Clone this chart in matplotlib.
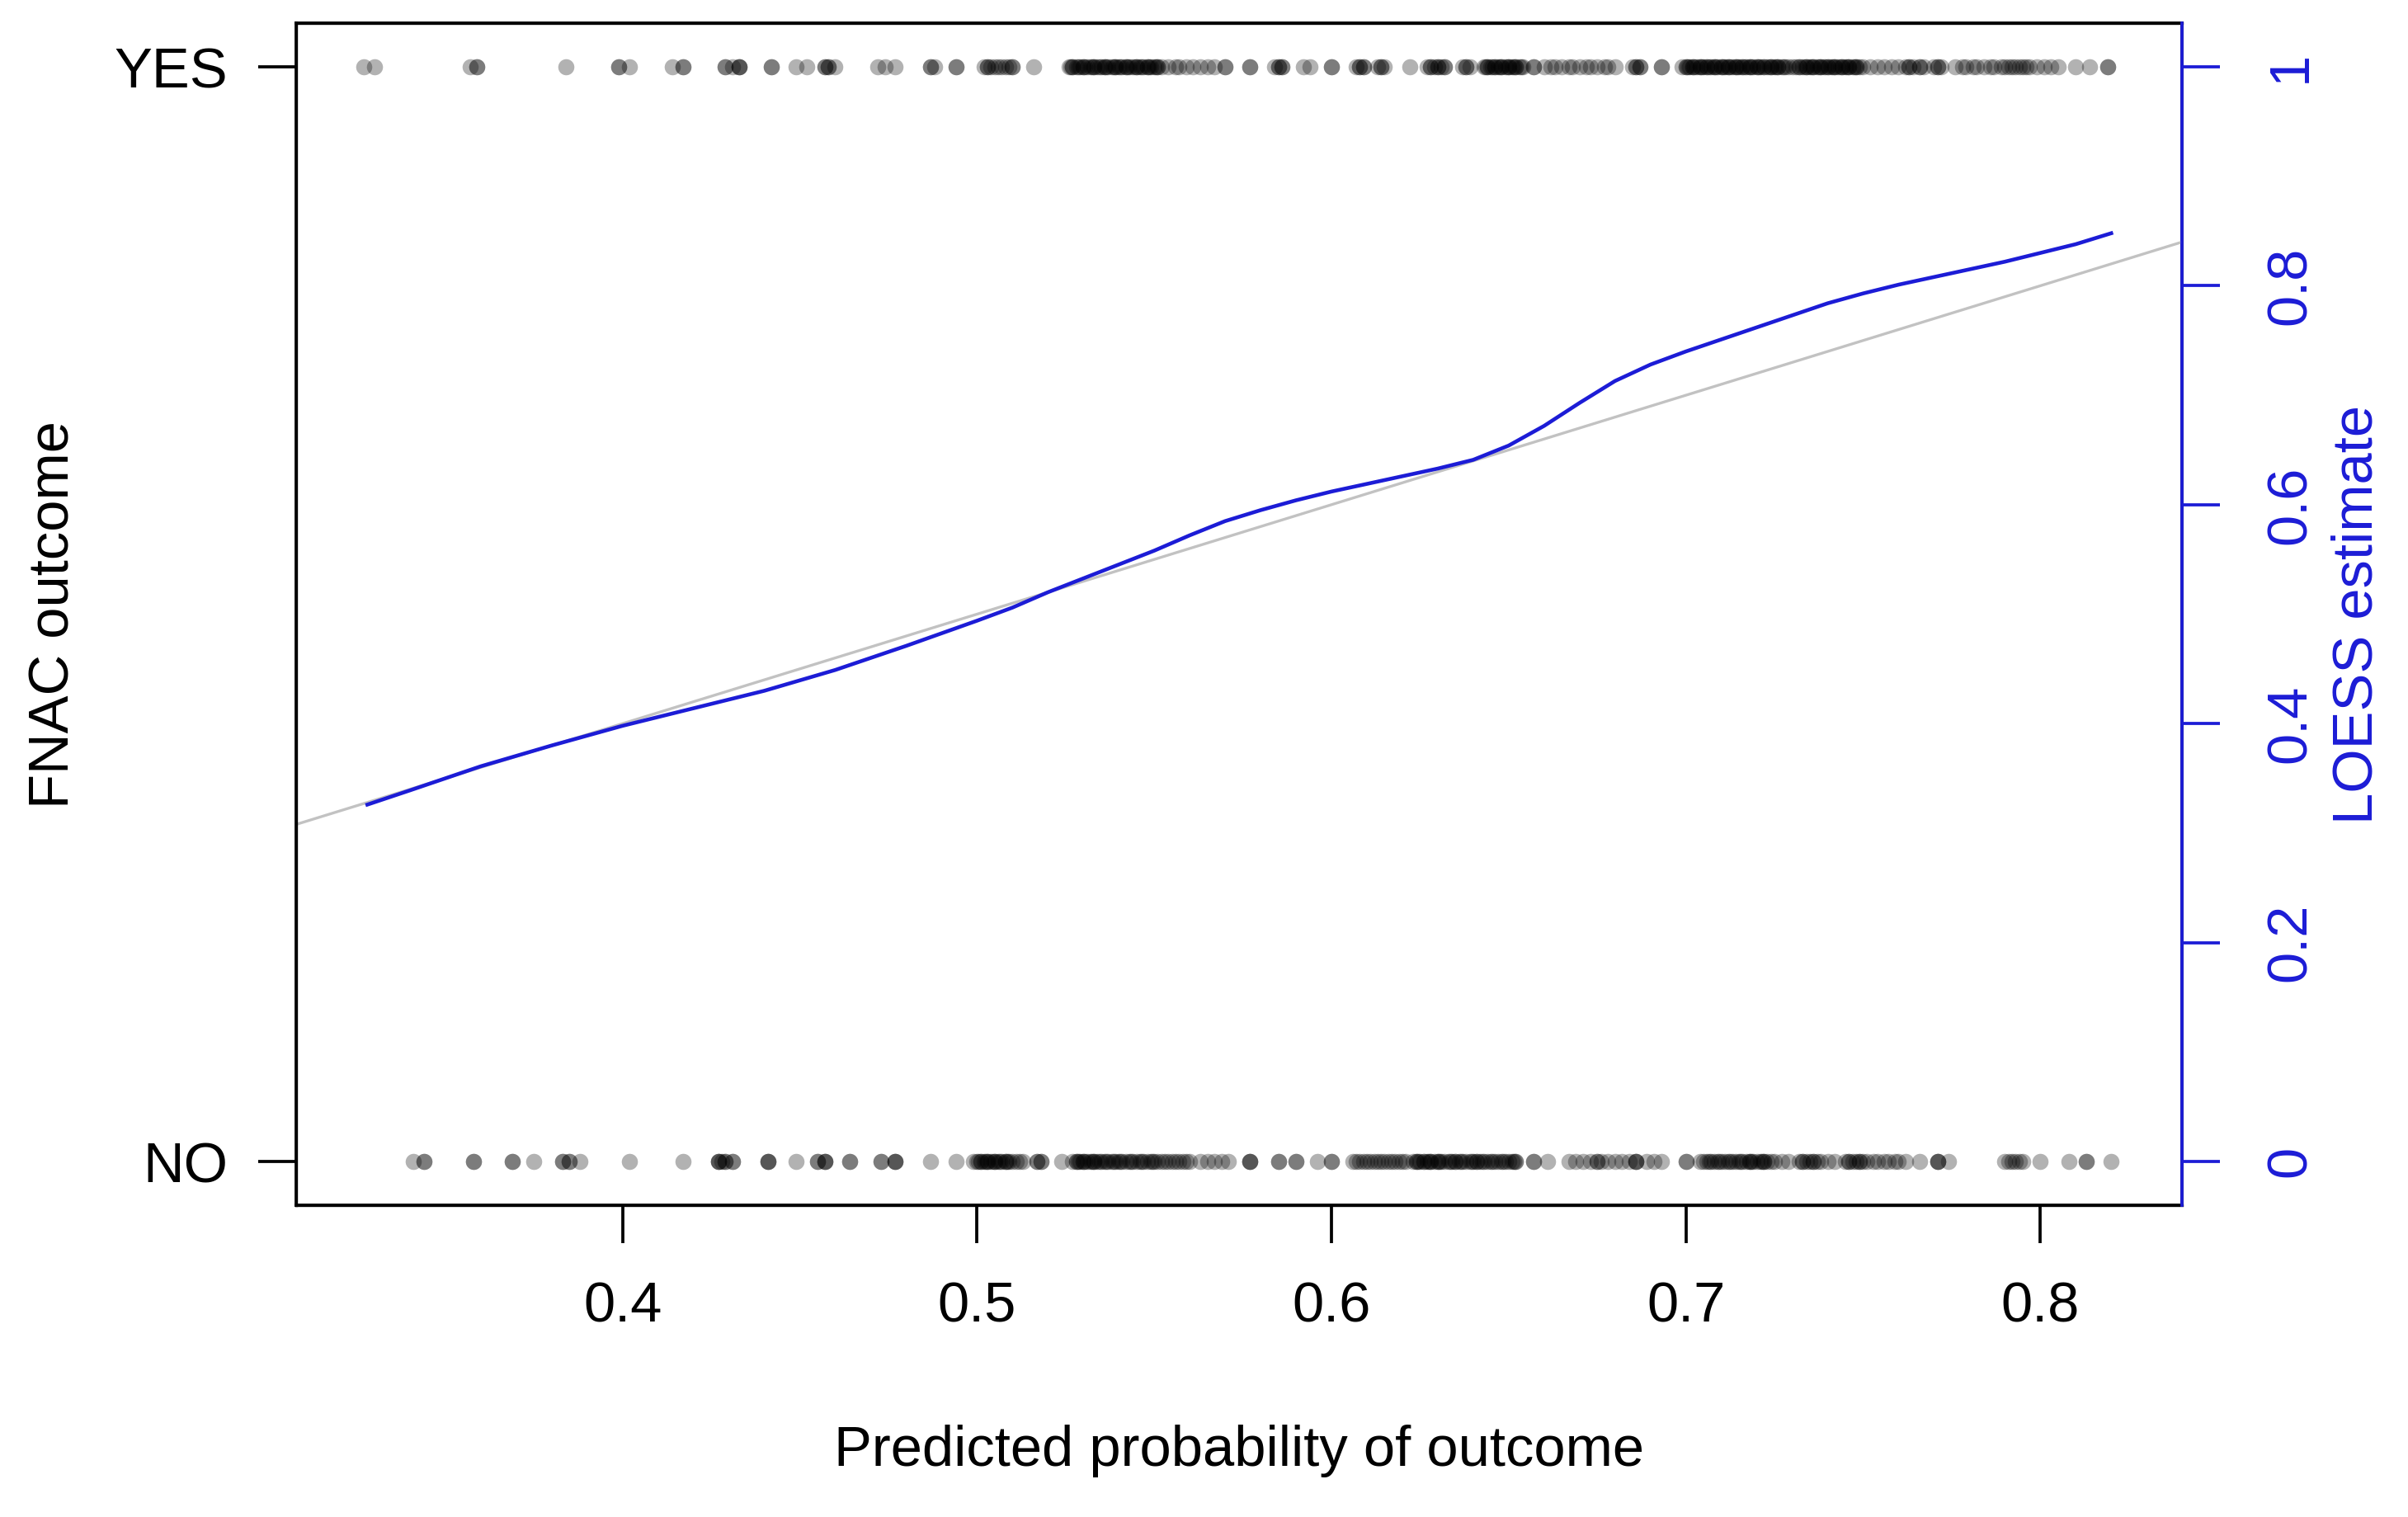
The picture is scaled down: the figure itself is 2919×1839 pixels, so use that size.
import numpy as np
import matplotlib
matplotlib.use('Agg')
import matplotlib.pyplot as plt

plt.rcParams['font.family'] = ['Liberation Sans', 'DejaVu Sans']

# predicted probabilities of cases with FNAC outcome YES (plotted at 1)
yes_x = [
    0.327, 0.330,
    0.357, 0.359, 0.359,
    0.384,
    0.399, 0.399, 0.402,
    0.414, 0.417, 0.417,
    0.429, 0.429, 0.431, 0.433, 0.433, 0.433,
    0.442, 0.442,
    0.449, 0.452,
    0.457, 0.457, 0.458, 0.458, 0.460,
    0.472, 0.474, 0.477,
    0.487, 0.487, 0.488, 0.494, 0.494,
    0.502, 0.503, 0.503, 0.504, 0.505, 0.506, 0.507, 0.508, 0.509, 0.510, 0.510,
    0.516,
    0.526, 0.527, 0.527, 0.528, 0.529, 0.530, 0.530, 0.531, 0.532, 0.533, 0.533,
    0.534, 0.535, 0.536, 0.536, 0.537, 0.538, 0.539, 0.539, 0.540, 0.541, 0.542,
    0.542, 0.543, 0.544, 0.545, 0.545, 0.546, 0.547, 0.548, 0.548, 0.549, 0.550,
    0.551, 0.551, 0.552,
    0.5265, 0.5285, 0.5305, 0.5325, 0.5345, 0.5365, 0.5385, 0.5405, 0.5425,
    0.5445, 0.5465, 0.5485, 0.5505,
    0.554, 0.556, 0.557, 0.559, 0.561, 0.563, 0.565, 0.567,
    0.570, 0.570, 0.577, 0.577,
    0.584, 0.585, 0.585, 0.586, 0.586,
    0.592, 0.594, 0.600, 0.600,
    0.607, 0.608, 0.608, 0.609, 0.609,
    0.613, 0.614, 0.614, 0.615,
    0.622,
    0.627, 0.628, 0.628, 0.629, 0.630, 0.630, 0.631, 0.632, 0.632,
    0.637, 0.638, 0.638, 0.639,
    0.643, 0.644, 0.644, 0.645, 0.646, 0.646, 0.647, 0.648, 0.648, 0.649, 0.650,
    0.650, 0.651, 0.652, 0.652, 0.653, 0.654,
    0.6435, 0.6455, 0.6475, 0.6495, 0.6515, 0.6535,
    0.657, 0.657,
    0.660, 0.662, 0.663, 0.665, 0.667, 0.668, 0.670, 0.672, 0.673, 0.675, 0.677,
    0.678, 0.680,
    0.685, 0.686, 0.686, 0.687, 0.687,
    0.693, 0.693,
    0.699, 0.700, 0.700, 0.701, 0.702, 0.702, 0.703, 0.704, 0.704, 0.705, 0.706,
    0.706, 0.707, 0.708, 0.708, 0.709, 0.710, 0.710, 0.711, 0.712, 0.712, 0.713,
    0.714, 0.714, 0.715, 0.716, 0.716, 0.717, 0.718, 0.718, 0.719, 0.720, 0.720,
    0.721, 0.722, 0.722,
    0.7005, 0.7025, 0.7045, 0.7065, 0.7085, 0.7105, 0.7125, 0.7145, 0.7165,
    0.7185, 0.7205,
    0.723, 0.724, 0.724, 0.725, 0.726, 0.726, 0.727, 0.728, 0.729, 0.730, 0.731,
    0.732, 0.732, 0.733, 0.734, 0.734, 0.735, 0.736, 0.736, 0.737, 0.738, 0.738,
    0.739, 0.740, 0.740, 0.741, 0.742, 0.742, 0.743, 0.744, 0.744, 0.745, 0.746,
    0.746, 0.747, 0.748, 0.748, 0.749, 0.750,
    0.7235, 0.7255, 0.7275, 0.7335, 0.7355, 0.7375, 0.7395, 0.7415, 0.7435,
    0.7455, 0.7475,
    0.752, 0.754, 0.756, 0.758, 0.760,
    0.762, 0.763, 0.763, 0.764, 0.766, 0.766, 0.767, 0.770, 0.771, 0.771, 0.772,
    0.776, 0.778, 0.779, 0.781, 0.782, 0.784, 0.786, 0.787, 0.789,
    0.790, 0.791, 0.792, 0.793, 0.794, 0.795, 0.796, 0.797,
    0.799, 0.801, 0.803, 0.805,
    0.810, 0.814, 0.819, 0.819,
]

# predicted probabilities of cases with FNAC outcome NO (plotted at 0)
no_x = [
    0.341, 0.344, 0.344,
    0.358, 0.358, 0.369, 0.369, 0.375,
    0.383, 0.383, 0.385, 0.385, 0.388,
    0.402, 0.417,
    0.427, 0.427, 0.427, 0.428, 0.429, 0.429, 0.431, 0.431,
    0.441, 0.441, 0.441, 0.449,
    0.455, 0.455, 0.457, 0.457, 0.457,
    0.464, 0.464, 0.473, 0.473, 0.477, 0.477, 0.477,
    0.487, 0.494,
    0.499, 0.500, 0.501, 0.501, 0.502, 0.503, 0.503, 0.504, 0.505, 0.505, 0.506,
    0.507, 0.508, 0.508, 0.509, 0.510, 0.511, 0.512, 0.513,
    0.5005, 0.5025, 0.5045, 0.5065, 0.5085,
    0.517, 0.517, 0.518, 0.518, 0.524,
    0.527, 0.528, 0.528, 0.529, 0.530, 0.530, 0.531, 0.532, 0.533, 0.533, 0.534,
    0.535, 0.536, 0.537, 0.538, 0.539, 0.540, 0.541, 0.542, 0.543, 0.544, 0.545,
    0.546, 0.547, 0.548, 0.549, 0.550, 0.551, 0.552, 0.553, 0.554, 0.555, 0.556,
    0.557, 0.558, 0.559, 0.560,
    0.5285, 0.5305, 0.5325, 0.5345, 0.5365, 0.5385, 0.5405, 0.5435, 0.5465,
    0.5495,
    0.563, 0.565, 0.567, 0.569, 0.571,
    0.577, 0.577, 0.577,
    0.585, 0.585, 0.590, 0.590, 0.596, 0.600, 0.600,
    0.606, 0.607, 0.608, 0.609, 0.610, 0.611, 0.612, 0.613, 0.614, 0.615, 0.616,
    0.617, 0.618, 0.619, 0.620, 0.621,
    0.623, 0.624, 0.624, 0.625, 0.626, 0.626, 0.627, 0.628, 0.628, 0.629, 0.630,
    0.630, 0.631, 0.632, 0.633, 0.634, 0.635, 0.635, 0.636, 0.637, 0.638, 0.639,
    0.640, 0.641, 0.641, 0.642, 0.643, 0.644, 0.645, 0.646, 0.647, 0.648, 0.649,
    0.650, 0.651, 0.652, 0.652,
    0.6245, 0.6275, 0.6305, 0.6335, 0.6365, 0.6395, 0.6425, 0.6455, 0.6485,
    0.6515,
    0.657, 0.657, 0.661,
    0.667, 0.669, 0.671, 0.673, 0.675, 0.675, 0.676, 0.678, 0.680, 0.682, 0.684,
    0.686, 0.686, 0.686,
    0.689, 0.691, 0.693,
    0.700, 0.700,
    0.704, 0.705, 0.706, 0.707, 0.708, 0.709, 0.710, 0.711, 0.712, 0.713, 0.714,
    0.715, 0.716, 0.717, 0.718, 0.718, 0.719, 0.720, 0.721, 0.722, 0.722, 0.723,
    0.724, 0.725,
    0.7065, 0.7095, 0.7125, 0.7155, 0.7185, 0.7215,
    0.727, 0.729,
    0.732, 0.733, 0.733, 0.734, 0.735, 0.736, 0.736, 0.737, 0.738,
    0.740, 0.742,
    0.745, 0.746, 0.746, 0.747, 0.748, 0.749, 0.749, 0.750, 0.751,
    0.753, 0.754, 0.756, 0.757, 0.759, 0.760, 0.762,
    0.766, 0.771, 0.771, 0.771, 0.774,
    0.790, 0.791, 0.792, 0.793, 0.794, 0.795,
    0.800, 0.808, 0.813, 0.813, 0.820,
]

# loess smooth
loess_x = [0.328, 0.34, 0.36, 0.38, 0.40, 0.42, 0.44, 0.46, 0.48, 0.50, 0.51,
           0.52, 0.535, 0.55, 0.56, 0.57, 0.58, 0.59, 0.60, 0.61, 0.62, 0.63,
           0.64, 0.65, 0.66, 0.67, 0.68, 0.69, 0.70, 0.71, 0.72, 0.73, 0.74,
           0.75, 0.76, 0.77, 0.78, 0.79, 0.80, 0.81, 0.82]
loess_y = [0.326, 0.339, 0.361, 0.380, 0.398, 0.414, 0.430, 0.449, 0.471, 0.494,
           0.506, 0.520, 0.539, 0.558, 0.572, 0.585, 0.595, 0.604, 0.612, 0.619,
           0.626, 0.633, 0.641, 0.654, 0.672, 0.693, 0.713, 0.728, 0.740, 0.751,
           0.762, 0.773, 0.784, 0.793, 0.801, 0.808, 0.815, 0.822, 0.830, 0.838,
           0.848]

x_ticks = [0.4, 0.5, 0.6, 0.7, 0.8]
right_ticks = [0, 0.2, 0.4, 0.6, 0.8, 1]
right_labels = ['0', '0.2', '0.4', '0.6', '0.8', '1']

blue = '#1c1cd6'
fs = 16.5

fig = plt.figure(figsize=(2919 / 300, 1839 / 300), dpi=300)
ax = fig.add_axes([0.1231, 0.2055, 0.9062 - 0.1231, 0.9848 - 0.2055])

pt_col = (0, 0, 0, 0.3)
ax.scatter(yes_x, np.ones(len(yes_x)), s=22, color=pt_col, linewidths=0, zorder=2)
ax.scatter(no_x, np.zeros(len(no_x)), s=22, color=pt_col, linewidths=0, zorder=2)

ax.axline((0, 0), (1, 1), color='#c2c2c2', linewidth=0.8, zorder=3)
ax.plot(loess_x, loess_y, color=blue, linewidth=1.1, zorder=4)

ax.set_xlim(0.308, 0.840)
ax.set_ylim(-0.04, 1.04)
ax.set_xticks(x_ticks)
ax.set_xticklabels([str(t) for t in x_ticks])
ax.set_yticks([0, 1])
ax.set_yticklabels(['NO', 'YES'])
ax.tick_params(axis='both', length=11, width=0.9, labelsize=fs, direction='out')
ax.tick_params(axis='x', pad=11)
ax.tick_params(axis='y', pad=9)
for s in ax.spines.values():
    s.set_linewidth(0.9)

ax2 = ax.twinx()
ax2.set_ylim(-0.04, 1.04)
ax2.set_yticks(right_ticks)
ax2.set_yticklabels(right_labels)
ax2.tick_params(axis='y', length=11, width=0.9, labelsize=fs, colors=blue, pad=13)
for lbl in ax2.get_yticklabels():
    lbl.set_rotation(90)
    lbl.set_va('center')
ax2.spines['right'].set_color(blue)
ax2.spines['right'].set_linewidth(0.9)
ax2.spines['right'].set_zorder(5)

fig.text(0.5147, 0.0435, 'Predicted probability of outcome', fontsize=fs,
         ha='center', va='center')
fig.text(0.0223, 0.595, 'FNAC outcome', fontsize=fs, rotation=90,
         ha='center', va='center')
fig.text(0.979, 0.595, 'LOESS estimate', fontsize=fs, rotation=90,
         ha='center', va='center', color=blue)

fig.savefig('out.png', dpi=300, facecolor='white')
